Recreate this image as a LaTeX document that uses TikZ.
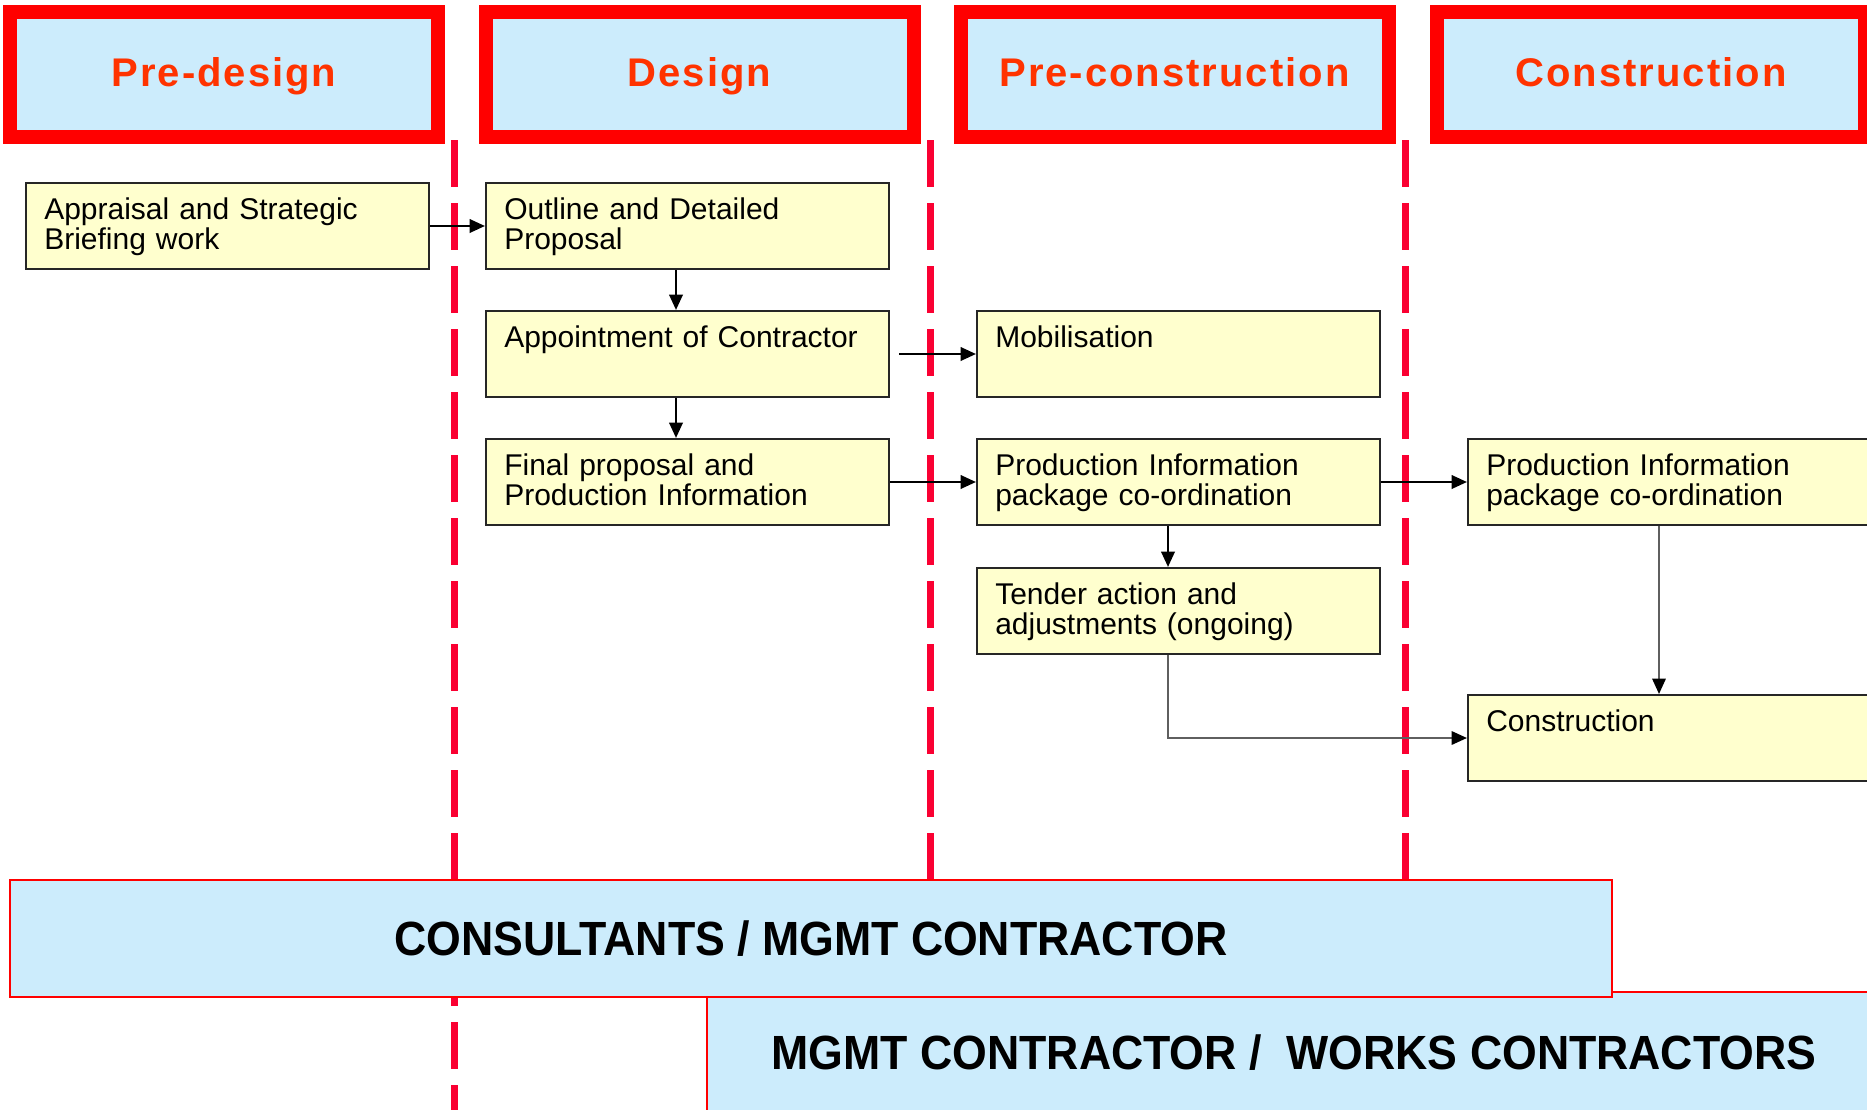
\documentclass[tikz,border=0pt]{standalone}
\usepackage{fontspec}
\usepackage{graphicx}
\setmainfont{Liberation Sans}
\newfontfamily\headfont[LetterSpace=5]{Liberation Sans}
\usetikzlibrary{calc,arrows.meta}
\definecolor{hdrfill}{RGB}{204,236,252}
\definecolor{hdrred}{RGB}{255,0,0}
\definecolor{hdrtext}{RGB}{255,51,0}
\definecolor{dashred}{RGB}{250,0,50}
\definecolor{cream}{RGB}{255,255,206}
\definecolor{graylink}{RGB}{95,95,95}
\begin{document}
\begin{tikzpicture}[x=0.75pt,y=-0.75pt,
  header/.style={draw=hdrred, line width=10.5pt, fill=hdrfill, minimum width=321pt,
    minimum height=93.75pt, inner sep=0pt, text=hdrtext, text height=21.75pt, text depth=4.5pt,
    font=\headfont\bfseries\fontsize{30pt}{36pt}\selectfont},
  phasedash/.style={draw=dashred, line width=5.25pt, dash pattern=on 35.25pt off 12pt},
  stepbox/.style={draw=black!85, line width=1.5pt, fill=cream, minimum width=302.25pt,
    minimum height=64.5pt, inner sep=0pt},
  steptext/.style={anchor=base west, inner sep=0pt, align=left, text width=285pt,
    font=\fontsize{22.5pt}{22.5pt}\selectfont},
  band/.style={draw=red, line width=1.5pt, fill=hdrfill, inner sep=0pt,
    font=\bfseries\fontsize{36pt}{36pt}\selectfont},
  arr/.style={draw=black, line width=1.9pt, -{Triangle[length=11.5pt,width=10pt]}},
  grayarr/.style={draw=graylink, line width=1.6pt, -{Triangle[length=11.5pt,width=10pt,color=black,fill=black]}}
]
\useasboundingbox (0,0) rectangle (1867,1110);
\clip (0,0) rectangle (1867,1110);
\fill[white] (0,0) rectangle (1867,1110);

% phase separators
\draw[phasedash] (454,140) -- (454,1110);
\draw[phasedash] (930,140) -- (930,1110);
\draw[phasedash] (1405,140) -- (1405,1110);

% headers
\node[header] (hpre) at (224,74.5) {Pre-design};
\node[header] (hdes) at (699.5,74.5) {Design};
\node[header] (hprc) at (1174.5,74.5) {Pre-construction};
\node[header] (hcon) at (1651,74.5) {Construction};

% step boxes
\node[stepbox] (appr) at (227.5,226) {};
\node[stepbox] (outl) at (687.5,226) {};
\node[stepbox] (appt) at (687.5,354) {};
\node[stepbox] (finl) at (687.5,482) {};
\node[stepbox] (mobi) at (1178.5,354) {};
\node[stepbox] (prda) at (1178.5,482) {};
\node[stepbox] (tend) at (1178.5,611) {};
\node[stepbox] (prdb) at (1669.5,482) {};
\node[stepbox] (cons) at (1669.5,738) {};

\node[steptext] (tappr) at ($(appr.north west)+(19,37)$) {Appraisal and Strategic\\Briefing work};
\node[steptext] (toutl) at ($(outl.north west)+(19,37)$) {Outline and Detailed\\Proposal};
\node[steptext] (tappt) at ($(appt.north west)+(19,37)$) {Appointment of Contractor};
\node[steptext] (tfinl) at ($(finl.north west)+(19,37)$) {Final proposal and\\Production Information};
\node[steptext] (tmobi) at ($(mobi.north west)+(19,37)$) {Mobilisation};
\node[steptext] (tprda) at ($(prda.north west)+(19,37)$) {Production Information\\package co-ordination};
\node[steptext] (ttend) at ($(tend.north west)+(19,37)$) {Tender action and\\adjustments (ongoing)};
\node[steptext] (tprdb) at ($(prdb.north west)+(19,37)$) {Production Information\\package co-ordination};
\node[steptext] (tcons) at ($(cons.north west)+(19,37)$) {Construction};

% connectors
\draw[arr] (appr) -- (outl);
\draw[arr] ($(outl.south)+(-11.5,0)$) -- ($(appt.north)+(-11.5,0)$);
\draw[arr] ($(appt.south)+(-11.5,0)$) -- ($(finl.north)+(-11.5,0)$);
\draw[arr] ($(appt.east)+(9,0)$) -- (mobi.west);
\draw[arr] (finl) -- (prda);
\draw[arr] ($(prda.south)+(-10.5,0)$) -- ($(tend.north)+(-10.5,0)$);
\draw[arr] (prda) -- (prdb);
\draw[grayarr] ($(prdb.south)+(-10.5,0)$) -- ($(cons.north)+(-10.5,0)$);
\draw[grayarr] ($(tend.south)+(-10.5,0)$) |- (cons.west);

% bottom bands
\node[band, minimum width=880.5pt, minimum height=91.5pt] (works) at (1294,1053)
  {\scalebox{0.93}[1]{MGMT CONTRACTOR /\ \ WORKS CONTRACTORS}};
\node[band, minimum width=1201.5pt, minimum height=87.75pt] (consult) at (811,938.5)
  {\scalebox{0.93}[1]{CONSULTANTS / MGMT CONTRACTOR}};
\end{tikzpicture}
\end{document}
